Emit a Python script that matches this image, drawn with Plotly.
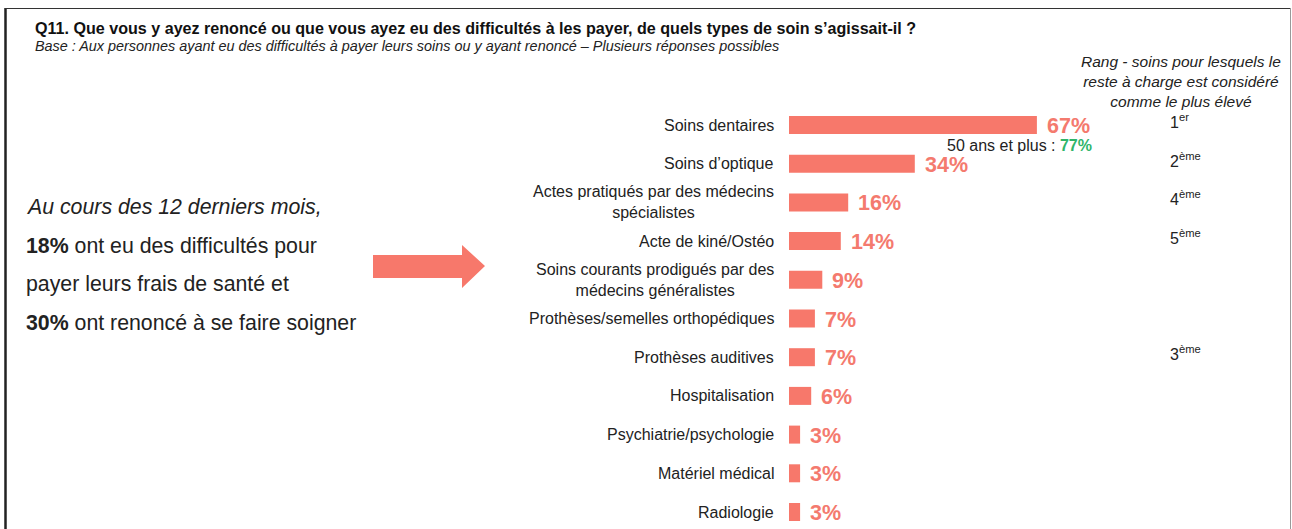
import plotly.graph_objects as go

# ---------------- data ----------------
categories = [
    "Soins dentaires",
    "Soins d’optique",
    "Actes pratiqués par des médecins<br>spécialistes",
    "Acte de kiné/Ostéo",
    "Soins courants prodigués par des<br>médecins généralistes",
    "Prothèses/semelles orthopédiques",
    "Prothèses auditives",
    "Hospitalisation",
    "Psychiatrie/psychologie",
    "Matériel médical",
    "Radiologie",
]
values = [67, 34, 16, 14, 9, 7, 7, 6, 3, 3, 3]
value_labels = [f"{v}%" for v in values]
ranks = ["1<sup>er</sup>", "2<sup>ème</sup>", "4<sup>ème</sup>", "5<sup>ème</sup>", "", "",
         "3<sup>ème</sup>", "", "", "", ""]
sub_note_prefix = "50 ans et plus : "
sub_note_value = "77%"

title_text = "Q11. Que vous y ayez renoncé ou que vous ayez eu des difficultés à les payer, de quels types de soin s’agissait-il ?"
subtitle_text = "Base : Aux personnes ayant eu des difficultés à payer leurs soins ou y ayant renoncé – Plusieurs réponses possibles"
rank_header = "Rang - soins pour lesquels le<br>reste à charge est considéré<br>comme le plus élevé"
left_lines = [
    "<i>Au cours des 12 derniers mois,</i>",
    "<b>18%</b> ont eu des difficultés pour",
    "payer leurs frais de santé et",
    "<b>30%</b> ont renoncé à se faire soigner",
]

# ---------------- layout helpers ----------------
W, H = 1292, 529
def px(x):
    return x / W
def py(y):
    return 1 - y / H

BAR = "#F7786B"
LBL = "#F47A6E"
GREEN = "#2FB56A"
FONT = "Liberation Sans, Arial, sans-serif"

x0_px = 789
scale = 3.7  # px per %
row0 = 125
step = 38.7

fig = go.Figure()
fig.add_trace(go.Bar(
    x=values, y=categories, orientation="h",
    marker=dict(color=BAR, line=dict(width=0)),
    width=0.465, hoverinfo="skip",
))

fig.update_layout(
    width=W, height=H, margin=dict(l=0, r=0, t=0, b=0),
    paper_bgcolor="white", plot_bgcolor="white",
    showlegend=False,
    font=dict(family=FONT, color="#222"),
    xaxis=dict(domain=[px(x0_px), 1], range=[0, (W - x0_px) / scale],
               visible=False, fixedrange=True),
    yaxis=dict(domain=[0, 1], type="category", categoryarray=categories,
               range=[(H - row0) / step, -row0 / step],
               visible=False, fixedrange=True),
)

anns = []
# category labels (multi-line labels: one annotation per line, centred block)
for c in categories:
    lines = c.split("<br>")
    nl = len(lines)
    if nl == 1:
        anns.append(dict(x=px(776), xref="paper", y=c, yref="y", text=c,
                         xanchor="right", yanchor="middle", align="center",
                         showarrow=False, font=dict(size=16, color="#222")))
    else:
        anns.append(dict(x=px(776), xref="paper", y=c, yref="y", text="<br>".join(lines),
                         xanchor="right", yanchor="middle", align="center",
                         showarrow=False, font=dict(size=16, color="#222"),
                         yshift=0))
# value labels
for c, v, t in zip(categories, values, value_labels):
    anns.append(dict(x=v, xref="x", y=c, yref="y", text=f"<b>{t}</b>",
                     xanchor="left", yanchor="middle", xshift=8, yshift=-1,
                     showarrow=False, font=dict(size=21.5, color=LBL)))
# ranks
for c, r in zip(categories, ranks):
    if r:
        anns.append(dict(x=px(1168), xref="paper", y=c, yref="y", text=r,
                         xanchor="left", yanchor="middle", yshift=4,
                         showarrow=False, font=dict(size=16, color="#222")))
# sub note
anns.append(dict(x=px(945), xref="paper", y=py(146), yref="paper",
                 text=f"{sub_note_prefix}<span style='color:{GREEN}'><b>{sub_note_value}</b></span>",
                 xanchor="left", yanchor="middle", showarrow=False,
                 font=dict(size=16, color="#222")))
# rank header
anns.append(dict(x=px(1181), xref="paper", y=py(81), yref="paper", text=f"<i>{rank_header}</i>",
                 xanchor="center", yanchor="middle", align="center", showarrow=False,
                 font=dict(size=15.5, color="#222")))
# title / subtitle
anns.append(dict(x=px(33), xref="paper", y=py(28), yref="paper", text=f"<b>{title_text}</b>",
                 xanchor="left", yanchor="middle", showarrow=False,
                 font=dict(size=16.1, color="#111")))
anns.append(dict(x=px(33), xref="paper", y=py(46), yref="paper", text=f"<i>{subtitle_text}</i>",
                 xanchor="left", yanchor="middle", showarrow=False,
                 font=dict(size=14.4, color="#222")))
# left text
for i, t in enumerate(left_lines):
    anns.append(dict(x=px(24), xref="paper", y=py(207 + i * 38.5), yref="paper", text=t,
                     xanchor="left", yanchor="middle", showarrow=False,
                     font=dict(size=21.3, color="#222")))
fig.update_layout(annotations=anns)

# arrow and frame
arrow = (f"M {px(373)} {py(255)} L {px(462)} {py(255)} L {px(462)} {py(245)} "
         f"L {px(485)} {py(266)} L {px(462)} {py(288)} L {px(462)} {py(278)} "
         f"L {px(373)} {py(278)} Z")
shapes = [
    dict(type="path", xref="paper", yref="paper", path=arrow,
         fillcolor=BAR, line=dict(width=0)),
    dict(type="line", xref="paper", yref="paper", x0=px(5.5), x1=px(5.5), y0=0, y1=py(8),
         line=dict(color="#222", width=2.5)),
    dict(type="line", xref="paper", yref="paper", x0=px(5), x1=px(1290), y0=py(8.5), y1=py(8.5),
         line=dict(color="#333", width=1.2)),
    dict(type="line", xref="paper", yref="paper", x0=px(1290.5), x1=px(1290.5), y0=0, y1=py(8),
         line=dict(color="#999", width=1)),
]
fig.update_layout(shapes=shapes)

fig.write_html("out.html", config={"displayModeBar": False},
               post_script="document.body.style.margin='0px';")
